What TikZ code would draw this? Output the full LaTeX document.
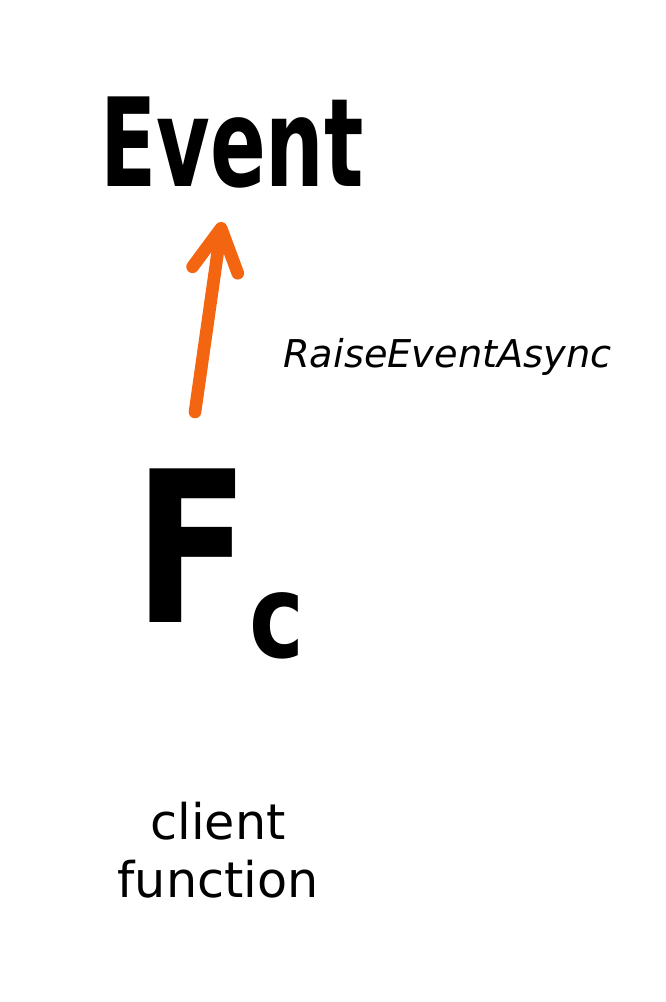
\documentclass[tikz,border=0pt]{standalone}
\usepackage{fontspec}
\setmainfont{DejaVu Sans}
\usepackage{graphicx}
\usepackage{tikz}
\usetikzlibrary{arrows.meta}
\definecolor{raiseorange}{HTML}{F46511}

\tikzset{
  handtext/.style={inner sep=0pt,text=black},
  raisearrow/.style={draw=raiseorange,line width=7.2pt,line cap=round,
    -{Straight Barb[length=24pt,width=26pt,round]}}
}

\begin{document}
\begin{tikzpicture}[x=0.02cm,y=-0.02cm]
            \useasboundingbox (0,0) rectangle (666,1002);
            \node[handtext,anchor=base](event) at (232,186)
              {\fontsize{70}{70}\selectfont\bfseries\scalebox{0.67}[1]{Event}};
            \node[handtext,anchor=base west](fc) at (134,622)
              {\bfseries\scalebox{0.8}[1]{\fontsize{120}{120}\selectfont F\raisebox{-20pt}{\fontsize{66}{66}\selectfont c}}};
            \node[handtext,anchor=base west](raise) at (283,367)
              {\fontsize{21.8}{26}\selectfont\itshape RaiseEventAsync};
            \node[handtext,anchor=base,align=center,font=\fontsize{28}{33}\selectfont](client) at (218,897)
              {client\\function};
            \coordinate (tail) at (195,412);
            \coordinate (tip) at (222,222);
            \draw[raisearrow](tail)--(tip);
        \end{tikzpicture}
\end{document}
